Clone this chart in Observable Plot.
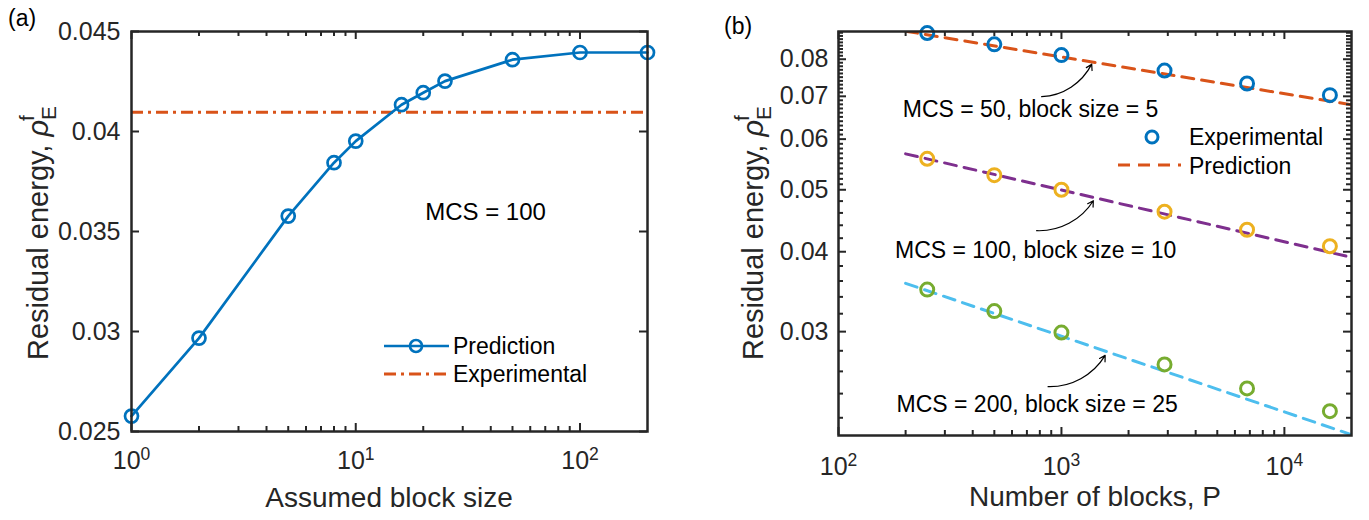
<!DOCTYPE html>
<html><head><meta charset="utf-8">
<script src="https://cdn.jsdelivr.net/npm/d3@7"></script>
<script src="https://cdn.jsdelivr.net/npm/@observablehq/plot@0.6"></script>
<style>
body{margin:0;background:#fff;}
#fig{position:relative;width:1369px;height:520px;font-family:"Liberation Sans",Arial,Helvetica,sans-serif;}
#fig .panel{position:absolute;top:0;}
</style></head><body><div id="fig"></div>
<script>
// ---------- Panel (a) data ----------
const blockSizes = [1, 2, 5, 8, 10, 16, 20, 25, 50, 100, 200];
const predictionA = [0.02577, 0.02967, 0.03577, 0.03844, 0.03952, 0.04134, 0.04194, 0.04252, 0.04359, 0.04395, 0.04395];
const experimentalA = 0.04096;
const xTicksA = [1, 10, 100];
const yTicksA = [0.025, 0.03, 0.035, 0.04, 0.045];
const yTickLabelsA = ["0.025", "0.03", "0.035", "0.04", "0.045"];
const annotA = [{text: "MCS = 100", x: 37.9, y: 0.03595}];

// ---------- Panel (b) data ----------
const numBlocks = [250, 500, 1000, 2900, 6800, 16000];
const seriesNames = ["MCS = 50, block size = 5", "MCS = 100, block size = 10", "MCS = 200, block size = 25"];
const expMCS50 = [0.0879, 0.0844, 0.0812, 0.0768, 0.0733, 0.0703];
const expMCS100 = [0.0559, 0.0527, 0.0500, 0.0462, 0.0433, 0.0408];
const expMCS200 = [0.0349, 0.0323, 0.0299, 0.02666, 0.02445, 0.02253];
const predP = [200, 20000];
const predMCS50 = [0.0885, 0.0679];
const predMCS100 = [0.0569, 0.0392];
const predMCS200 = [0.0357, 0.0207];
const xTicksB = [100, 1000, 10000];
const yTicksB = [0.03, 0.04, 0.05, 0.06, 0.07, 0.08];
const yTickLabelsB = ["0.03", "0.04", "0.05", "0.06", "0.07", "0.08"];
// annotation text anchors and arrows (data space)
const labelP = [727, 766, 778];
const labelV = [0.0667, 0.0402, 0.0231];
const arrowTailP = [815, 774, 871];
const arrowTailV = [0.0699, 0.04315, 0.02461];
const arrowHeadP = [1367, 1390, 1571];
const arrowHeadV = [0.0786, 0.04807, 0.02754];

// ---------- styles ----------
const BLUE = "#0072BD", ORANGE = "#D95319", YELLOW = "#EDB120", PURPLE = "#7E2F8E", GREEN = "#77AC30", CYAN = "#4DBEEE";
const FRAME = "#262626";
const FONT = '"Liberation Sans", Arial, Helvetica, sans-serif';
const expColors = [BLUE, YELLOW, GREEN];
const predColors = [ORANGE, PURPLE, CYAN];

function minorLog(lo, hi) {
  const out = [];
  for (let e = Math.floor(Math.log10(lo)); e <= Math.ceil(Math.log10(hi)); e++)
    for (let m = 2; m <= 9; m++) { const v = m * 10 ** e; if (v > lo && v < hi) out.push(v); }
  return out;
}
function supTicks(svg, size) {
  d3.select(svg).selectAll('g[aria-label="x-axis tick label"] text').each(function() {
    const t = d3.select(this); const s = t.text(); const [base, exp] = s.split("^");
    t.text(null);
    t.append("tspan").text(base);
    t.append("tspan").attr("dy", -size * 0.36).attr("font-size", size * 0.7).text(exp);
  });
}
function yTitle(svg, x, y, size) {
  const t = d3.select(svg).append("text").attr("transform", `translate(${x},${y}) rotate(-90)`)
    .attr("text-anchor", "middle").attr("font-size", size).attr("fill", FRAME).attr("font-family", FONT);
  t.append("tspan").text("Residual energy, ");
  t.append("tspan").attr("font-style", "italic").text("ρ");
  t.append("tspan").attr("font-size", size * 0.72).attr("dy", size * 0.28).text("E");
  t.append("tspan").attr("font-size", size * 0.72).attr("dx", -size * 0.52).attr("dy", -size * 0.78).text("f");
}
function addText(svg, x, y, str, size, anchor = "start", fill = "#000") {
  d3.select(svg).append("text").attr("x", x).attr("y", y).attr("font-size", size).attr("fill", fill)
    .attr("font-family", FONT).attr("text-anchor", anchor).text(str);
}

const fig = document.getElementById("fig");

// ---------- Panel (a) ----------
const dataA = blockSizes.map((b, i) => ({b, v: predictionA[i]}));
const minorA = minorLog(1, 200);
const pwA = 690 - 131 - 43, phA = 520 - 31 - 89;
const plotA = Plot.plot({
  width: 690, height: 520, marginLeft: 131, marginRight: 43, marginTop: 31, marginBottom: 89,
  style: {fontFamily: FONT, fontSize: "25px", color: FRAME, background: "transparent", overflow: "visible"},
  x: {type: "log", domain: [1, 200]},
  y: {domain: [0.025, 0.045]},
  marks: [
    Plot.ruleY([experimentalA], {stroke: ORANGE, strokeWidth: 3, strokeDasharray: "12,5,3,5"}),
    Plot.line(dataA, {x: "b", y: "v", stroke: BLUE, strokeWidth: 2.7}),
    Plot.dot(dataA, {x: "b", y: "v", r: 6.5, stroke: BLUE, strokeWidth: 2.7, fill: "none"}),
    Plot.text(annotA, {x: "x", y: "y", text: "text", fontSize: 24, fill: "#000"}),
    Plot.tickX(xTicksA, {x: d => d, stroke: FRAME, strokeWidth: 2, insetTop: phA - 8}),
    Plot.tickX(xTicksA, {x: d => d, stroke: FRAME, strokeWidth: 2, insetBottom: phA - 8}),
    Plot.tickX(minorA, {x: d => d, stroke: FRAME, strokeWidth: 2, insetTop: phA - 5}),
    Plot.tickX(minorA, {x: d => d, stroke: FRAME, strokeWidth: 2, insetBottom: phA - 5}),
    Plot.tickY(yTicksA, {y: d => d, stroke: FRAME, strokeWidth: 2, insetRight: pwA - 8}),
    Plot.tickY(yTicksA, {y: d => d, stroke: FRAME, strokeWidth: 2, insetLeft: pwA - 8}),
    Plot.frame({stroke: FRAME, strokeWidth: 2.5}),
    Plot.axisX(xTicksA, {tickSize: 0, tickPadding: 20, tickFormat: d => "10^" + Math.round(Math.log10(d)), label: null}),
    Plot.axisY(yTicksA, {tickSize: 0, tickPadding: 11, tickFormat: d => yTickLabelsA[yTicksA.indexOf(d)], label: null})
  ]
});
plotA.classList.add("panel"); plotA.style.left = "0px";
fig.appendChild(plotA);
supTicks(plotA, 25);
yTitle(plotA, 48, 233, 29);
addText(plotA, 389, 507, "Assumed block size", 28, "middle", FRAME);
addText(plotA, 8, 26, "(a)", 23);
// legend (a)
{
  const g = d3.select(plotA).append("g");
  g.append("line").attr("x1", 384).attr("x2", 449).attr("y1", 346).attr("y2", 346).attr("stroke", BLUE).attr("stroke-width", 2.7);
  g.append("circle").attr("cx", 416).attr("cy", 346).attr("r", 6).attr("fill", "none").attr("stroke", BLUE).attr("stroke-width", 2.7);
  g.append("line").attr("x1", 384).attr("x2", 449).attr("y1", 374).attr("y2", 374).attr("stroke", ORANGE).attr("stroke-width", 3).attr("stroke-dasharray", "12,5,3,5");
  addText(plotA, 453, 354, "Prediction", 23);
  addText(plotA, 453, 382, "Experimental", 23);
}

// ---------- Panel (b) ----------
const expB = [expMCS50, expMCS100, expMCS200];
const predB = [predMCS50, predMCS100, predMCS200];
const minorXB = minorLog(100, 20000);
const minorYB = [...d3.range(22, 50, 2), ...d3.range(50, 89, 1)].map(d => d / 1000)
  .filter(d => !yTicksB.some(t => Math.abs(t - d) < 1e-9));
const pwB = 679 - 148 - 18, phB = 520 - 31 - 85;
const marksB = [];
predB.forEach((vals, s) => {
  marksB.push(Plot.line(predP.map((P, i) => ({P, v: vals[i]})), {x: "P", y: "v", stroke: predColors[s], strokeWidth: 3, strokeDasharray: "12,8", clip: true}));
});
expB.forEach((vals, s) => {
  marksB.push(Plot.dot(numBlocks.map((P, i) => ({P, v: vals[i]})), {x: "P", y: "v", r: 6.5, stroke: expColors[s], strokeWidth: 3, fill: "none"}));
});
const annB = seriesNames.map((name, i) => ({name, lp: labelP[i], lv: labelV[i], tp: arrowTailP[i], tv: arrowTailV[i], hp: arrowHeadP[i], hv: arrowHeadV[i]}));
marksB.push(
  Plot.arrow(annB, {x1: "tp", y1: "tv", x2: "hp", y2: "hv", bend: -30, stroke: "#000", strokeWidth: 1.2, headLength: 8}),
  Plot.text(annB, {x: "lp", y: "lv", text: "name", fontSize: 23, fill: "#000"}),
  Plot.tickX(xTicksB, {x: d => d, stroke: FRAME, strokeWidth: 2, insetTop: phB - 8}),
  Plot.tickX(xTicksB, {x: d => d, stroke: FRAME, strokeWidth: 2, insetBottom: phB - 8}),
  Plot.tickX(minorXB, {x: d => d, stroke: FRAME, strokeWidth: 2, insetTop: phB - 5}),
  Plot.tickX(minorXB, {x: d => d, stroke: FRAME, strokeWidth: 2, insetBottom: phB - 5}),
  Plot.tickY(yTicksB, {y: d => d, stroke: FRAME, strokeWidth: 2, insetRight: pwB - 8}),
  Plot.tickY(yTicksB, {y: d => d, stroke: FRAME, strokeWidth: 2, insetLeft: pwB - 8}),
  Plot.tickY(minorYB, {y: d => d, stroke: FRAME, strokeWidth: 2, insetRight: pwB - 5}),
  Plot.tickY(minorYB, {y: d => d, stroke: FRAME, strokeWidth: 2, insetLeft: pwB - 5}),
  Plot.frame({stroke: FRAME, strokeWidth: 2.5}),
  Plot.axisX(xTicksB, {tickSize: 0, tickPadding: 22, tickFormat: d => "10^" + Math.round(Math.log10(d)), label: null}),
  Plot.axisY(yTicksB, {tickSize: 0, tickPadding: 10, tickFormat: d => yTickLabelsB[yTicksB.findIndex(t => Math.abs(t - d) < 1e-9)], label: null})
);
const plotB = Plot.plot({
  width: 679, height: 520, marginLeft: 148, marginRight: 18, marginTop: 31, marginBottom: 85,
  style: {fontFamily: FONT, fontSize: "25px", color: FRAME, background: "transparent", overflow: "visible"},
  x: {type: "log", domain: [100, 20000]},
  y: {type: "log", domain: [0.02064, 0.0884]},
  marks: marksB
});
plotB.classList.add("panel"); plotB.style.left = "690px";
fig.appendChild(plotB);
supTicks(plotB, 25);
yTitle(plotB, 73, 233, 29);
addText(plotB, 405, 506, "Number of blocks, P", 28, "middle", FRAME);
addText(plotB, 34, 34, "(b)", 23);
{
  const g = d3.select(plotB).append("g");
  g.append("circle").attr("cx", 462).attr("cy", 137).attr("r", 6).attr("fill", "none").attr("stroke", BLUE).attr("stroke-width", 3);
  g.append("line").attr("x1", 428).attr("x2", 491).attr("y1", 165).attr("y2", 165).attr("stroke", ORANGE).attr("stroke-width", 3).attr("stroke-dasharray", "12,8");
  addText(plotB, 499, 145, "Experimental", 23);
  addText(plotB, 499, 174, "Prediction", 23);
}
</script></body></html>
